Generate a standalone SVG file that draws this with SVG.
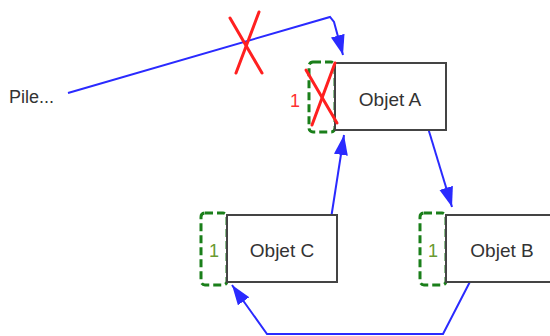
<svg xmlns="http://www.w3.org/2000/svg" width="550" height="336" viewBox="0 0 550 336">
<style>
.box{fill:#fff;stroke:#444;stroke-width:2}
.slot{fill:none;stroke:#1a7f1a;stroke-width:3;stroke-dasharray:8 4}
.lbl{font-family:"Liberation Sans",Arial,sans-serif;font-size:18px;fill:#333}
.obj{font-size:19px}
.cnt{font-family:"Liberation Sans",Arial,sans-serif;font-size:18px}
.con{fill:none;stroke:#2a2aff;stroke-width:2}
.cross{stroke:#ff2020;stroke-width:3;stroke-linecap:round}
</style>
<defs>
<marker id="arr" markerUnits="userSpaceOnUse" markerWidth="22" markerHeight="16" refX="20" refY="7" orient="auto">
<path d="M0,0 L20,7 L0,14 z" fill="#2a2aff"/>
</marker>
</defs>
<g id="pile"><text class="lbl" x="9" y="103">Pile...</text></g>
<g id="connectors">
<polyline class="con" points="68,93 330,17 334,22 343,55" marker-end="url(#arr)"/>
<line class="con" x1="330" y1="225" x2="344" y2="135" marker-end="url(#arr)"/>
<line class="con" x1="425" y1="118" x2="452" y2="207" marker-end="url(#arr)"/>
<polyline class="con" points="475,272 443,334 267,334 232,285" marker-end="url(#arr)"/>
</g>
<g id="objetA">
<rect class="slot" x="309" y="62" width="26" height="70" rx="4"/>
<rect class="box" x="335" y="63" width="111" height="67"/>
<text class="lbl obj" x="390" y="106" text-anchor="middle">Objet A</text>
<text class="cnt" x="295" y="107" text-anchor="middle" fill="#ff3030">1</text>
<line class="cross" x1="306" y1="70" x2="337" y2="123"/>
<line class="cross" x1="335" y1="63" x2="312" y2="125"/>
</g>
<g id="cross-pile">
<line class="cross" x1="230" y1="18" x2="262" y2="73"/>
<line class="cross" x1="259" y1="12" x2="236" y2="73"/>
</g>
<g id="objetC">
<rect class="slot" x="201" y="213" width="26" height="72" rx="4"/>
<rect class="box" x="227" y="215" width="110" height="67"/>
<text class="lbl obj" x="282" y="257" text-anchor="middle">Objet C</text>
<text class="cnt" x="214" y="257" text-anchor="middle" fill="#6a9a30">1</text>
</g>
<g id="objetB">
<rect class="slot" x="420" y="213" width="26" height="72" rx="4"/>
<rect class="box" x="446" y="215" width="112" height="67"/>
<text class="lbl obj" x="502" y="257" text-anchor="middle">Objet B</text>
<text class="cnt" x="433" y="257" text-anchor="middle" fill="#6a9a30">1</text>
</g>
</svg>
